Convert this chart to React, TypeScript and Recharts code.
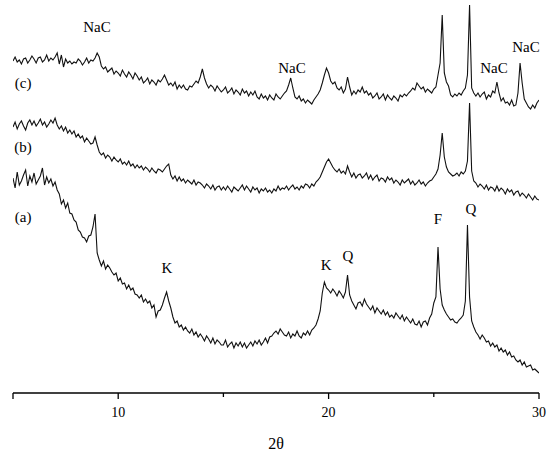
import React from 'react';
import { LineChart, Line, XAxis, YAxis, ReferenceDot } from 'recharts';

// 2θ grid: 5.0 .. 30.0, step 0.1
const THETA_START = 5;
const THETA_STEP = 0.1;

// (a) intensities
const seriesA = [
  215, 205, 221, 208, 212, 218, 223, 207, 217, 211,
  220, 209, 213, 217, 225, 208, 216, 210, 214, 207,
  211, 203, 199, 189, 193, 185, 190, 180, 179, 173,
  171, 163, 161, 156, 155, 151, 157, 158, 166, 179,
  140, 133, 127, 132, 124, 128, 125, 121, 118, 120,
  112, 115, 109, 110, 104, 108, 103, 105, 99, 98,
  95, 98, 91, 94, 90, 92, 85, 88, 76, 82,
  83, 88, 95, 101, 92, 85, 76, 70, 72, 66,
  68, 63, 66, 62, 60, 64, 58, 61, 56, 59,
  56, 52, 57, 54, 50, 55, 49, 53, 51, 48,
  48, 53, 46, 49, 51, 45, 50, 47, 51, 46,
  50, 45, 48, 51, 47, 52, 49, 53, 48, 51,
  55, 50, 56, 57, 60, 62, 59, 64, 61, 58,
  57, 61, 55, 59, 57, 62, 57, 55, 60, 58,
  62, 58, 63, 65, 68, 74, 82, 100, 111, 105,
  103, 100, 104, 101, 97, 102, 99, 95, 101, 118,
  98, 92, 88, 84, 90, 91, 87, 94, 89, 86,
  83, 87, 80, 85, 82, 79, 83, 78, 81, 76,
  78, 75, 80, 77, 74, 78, 72, 76, 73, 70,
  74, 69, 68, 72, 66, 71, 72, 68, 75, 79,
  90, 96, 146, 104, 88, 83, 79, 76, 73, 74,
  71, 70, 73, 75, 78, 92, 168, 96, 72, 66,
  61, 58, 54, 58, 55, 51, 52, 47, 50, 46,
  48, 42, 45, 41, 43, 38, 41, 36, 37, 33,
  31, 33, 28, 31, 26, 27, 28, 23, 24, 22,
  20,
];

// (b) intensities
const seriesB = [
  266, 271, 264, 269, 272, 267, 263, 270, 273, 268,
  272, 267, 270, 274, 268, 271, 266, 269, 273, 270,
  275, 268, 264, 267, 262, 266, 260, 263, 259, 262,
  256, 259, 255, 257, 251, 255, 252, 249, 250, 256,
  248, 241, 238, 240, 235, 238, 236, 232, 236, 233,
  231, 234, 229, 231, 228, 232, 227, 229, 225, 228,
  225, 227, 223, 226, 224, 221, 225, 222, 220, 224,
  223, 221, 224, 227, 229, 218, 214, 217, 212, 216,
  212, 214, 210, 213, 211, 209, 213, 208, 211, 210,
  208, 205, 209, 207, 204, 208, 203, 206, 207, 203,
  206, 203, 207, 204, 201, 206, 204, 202, 205, 208,
  203, 207, 204, 201, 206, 203, 205, 200, 204, 202,
  205, 201, 203, 200, 204, 202, 207, 203, 205, 204,
  207, 203, 206, 208, 204, 206, 203, 207, 205, 209,
  208, 205, 209, 207, 211, 213, 216, 221, 226, 231,
  234, 230, 226, 223, 221, 224, 220, 222, 219, 227,
  221, 216, 220, 215, 218, 219, 215, 217, 220, 214,
  218, 213, 216, 218, 212, 215, 214, 211, 216, 213,
  215, 210, 213, 211, 208, 213, 210, 212, 214, 209,
  212, 208, 210, 213, 209, 211, 207, 210, 212, 213,
  216, 219, 224, 238, 260, 236, 226, 221, 219, 217,
  218, 220, 217, 221, 219, 222, 232, 290, 222, 212,
  210, 206, 209, 207, 204, 208, 203, 206, 205, 202,
  207, 202, 205, 203, 199, 204, 201, 203, 198, 201,
  202, 197, 200, 198, 195, 199, 196, 193, 197, 194,
  193,
];

// (c) intensities
const seriesC = [
  332, 336, 331, 333, 329, 334, 335, 330, 333, 337,
  334, 330, 335, 336, 331, 333, 338, 332, 335, 333,
  336, 340, 329, 338, 326, 334, 330, 332, 329, 331,
  330, 334, 332, 328, 331, 335, 330, 333, 332, 335,
  340, 336, 327, 324, 326, 321, 323, 325, 319, 322,
  320, 317, 323, 319, 316, 321, 318, 314, 320, 317,
  313, 316, 310, 312, 315, 309, 313, 311, 308, 313,
  311, 314, 318, 313, 308, 310, 307, 311, 304, 308,
  305, 308, 304, 303, 307, 306, 309, 312, 310, 316,
  324, 315, 309, 305, 308, 306, 302, 307, 304, 301,
  303, 306, 300, 302, 305, 299, 303, 301, 298, 304,
  300, 302, 297, 301, 298, 302, 296, 294, 299, 295,
  297, 293, 298, 295, 293, 299, 296, 294, 297, 300,
  302, 308, 315, 305, 296, 294, 297, 292, 294, 290,
  293, 291, 289, 293, 296, 299, 303, 310, 318, 325,
  320, 312, 309, 311, 305, 303, 306, 300, 304, 316,
  306, 298, 302, 299, 303, 301, 306, 300, 302, 298,
  300, 295, 297, 300, 294, 296, 299, 293, 298, 295,
  293, 297, 295, 292, 298, 296, 299, 297, 300, 302,
  305, 303, 310, 307, 304, 306, 301, 304, 302, 300,
  304, 306, 318, 330, 378, 320, 311, 307, 298, 296,
  299, 297, 300, 298, 302, 305, 318, 388, 305, 300,
  297, 300, 296, 299, 301, 294, 298, 296, 302, 300,
  311, 300, 292, 295, 290, 291, 288, 293, 287, 288,
  300, 330, 310, 294, 290, 286, 284, 288, 285, 290,
  293,
];

const xTicks = [5, 10, 15, 20, 25, 30];
const xTickLabels = ['', '10', '', '20', '', '30'];

const annotationText = ['NaC', '(c)', '(b)', '(a)', 'NaC', 'NaC', 'NaC', 'K', 'K', 'Q', 'F', 'Q'];
const annotationTheta = [8.99, 5.48, 5.48, 5.48, 18.26, 27.86, 29.38, 12.32, 19.88, 20.92, 25.2, 26.77];
const annotationValue = [366, 310, 246, 176, 325, 325, 346, 125, 128, 137, 174, 184];

const data = seriesA.map((a, i) => ({
  t: Math.round((THETA_START + i * THETA_STEP) * 10) / 10,
  a,
  b: seriesB[i],
  c: seriesC[i],
}));

const FONT = "'Liberation Serif', 'Times New Roman', Times, serif";

const Tick = (props: any) => {
  const { x, y, index } = props;
  const label = xTickLabels[index] ?? '';
  const major = label !== '' || index === 0 || index === xTicks.length - 1;
  return (
    <g>
      <line x1={x} x2={x} y1={y} y2={y + (major ? 6 : 4)} stroke="#000" strokeWidth={1.3} />
      {label ? (
        <text x={x} y={y + 24} textAnchor="middle" style={{ fontSize: 14, fontFamily: FONT }} fill="#000">
          {label}
        </text>
      ) : null}
    </g>
  );
};

export default function App() {
  return (
    <div style={{ position: 'absolute', left: 0, top: 0, width: 550, height: 456, background: '#fff', fontFamily: FONT }}>
      <LineChart
        width={550}
        height={456}
        data={data}
        margin={{ top: 0, right: 11, bottom: 0, left: 13 }}
        style={{ fontFamily: FONT }}
      >
        <XAxis
          dataKey="t"
          type="number"
          domain={[5, 30]}
          ticks={xTicks}
          allowDataOverflow
          height={63}
          tickSize={0}
          tickMargin={0}
          tickLine={false}
          axisLine={{ stroke: '#000', strokeWidth: 1.3 }}
          tick={<Tick />}
          interval={0}
          label={{
            value: '2θ',
            position: 'insideBottom',
            offset: 7,
            fontFamily: FONT,
            style: { fontSize: 16, fontFamily: FONT, fill: '#000' },
          }}
        />
        <YAxis hide type="number" domain={[0, 393]} allowDataOverflow />
        <Line type="linear" dataKey="a" stroke="#111" strokeWidth={1.1} dot={false} isAnimationActive={false} />
        <Line type="linear" dataKey="b" stroke="#111" strokeWidth={1.1} dot={false} isAnimationActive={false} />
        <Line type="linear" dataKey="c" stroke="#111" strokeWidth={1.1} dot={false} isAnimationActive={false} />
        {annotationText.map((txt, i) => (
          <ReferenceDot
            key={i}
            x={annotationTheta[i]}
            y={annotationValue[i]}
            r={0}
            fill="none"
            stroke="none"
            ifOverflow="visible"
            label={{
              value: txt,
              position: 'center',
              fontFamily: FONT,
              style: { fontSize: 15, fontFamily: FONT, fill: '#000' },
            }}
          />
        ))}
      </LineChart>
    </div>
  );
}
